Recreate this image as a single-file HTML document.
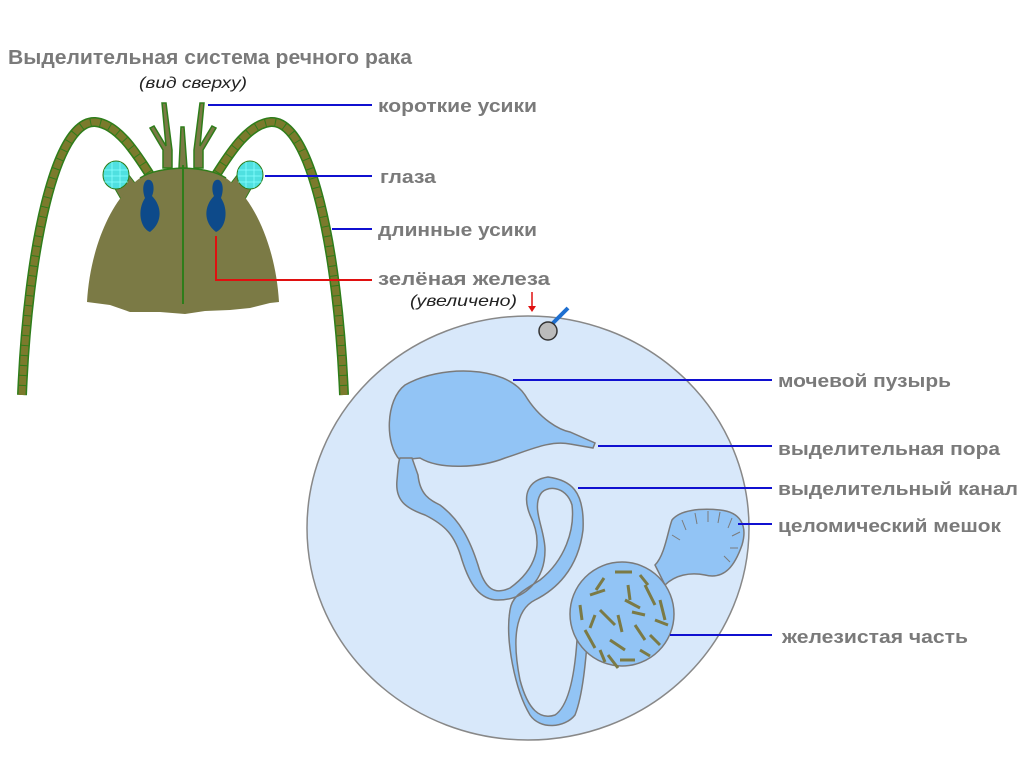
<!DOCTYPE html>
<html><head><meta charset="utf-8"><style>
html,body{margin:0;padding:0;background:#fff;}
svg{display:block}
.l{font-family:"Liberation Sans",sans-serif;font-weight:bold;font-size:18px;fill:#7a7a7a;}
.i{font-family:"Liberation Sans",sans-serif;font-style:italic;font-size:16px;fill:#222;}
</style></head><body>
<svg width="1024" height="767" viewBox="0 0 1024 767" xmlns="http://www.w3.org/2000/svg">
<text class="l" x="8" y="64" textLength="404" lengthAdjust="spacingAndGlyphs" style="font-size:20px">Выделительная система речного рака</text>
<text class="i" x="139" y="88" textLength="108" lengthAdjust="spacingAndGlyphs">(вид сверху)</text>

<g fill="none" stroke-linecap="butt">
<path d="M22,395 C28,250 55,120 95,122 C120,124 140,160 152,178" stroke="#2e7d1a" stroke-width="10"/>
<path d="M22,395 C28,250 55,120 95,122 C120,124 140,160 152,178" stroke="#7b7a2c" stroke-width="7" stroke-dasharray="9 1"/>
<path d="M344,395 C338,250 311,120 271,122 C246,124 226,160 214,178" stroke="#2e7d1a" stroke-width="10"/>
<path d="M344,395 C338,250 311,120 271,122 C246,124 226,160 214,178" stroke="#7b7a2c" stroke-width="7" stroke-dasharray="9 1"/>
</g>
<path d="M110,180 L125,170 L148,200 L130,215 Z" fill="#7b7a45" stroke="#2e7d1a"/>
<path d="M256,180 L241,170 L218,200 L236,215 Z" fill="#7b7a45" stroke="#2e7d1a"/>
<ellipse cx="116" cy="175" rx="13" ry="14" fill="#4fe0e0" stroke="#2e7d1a"/>
<ellipse cx="250" cy="175" rx="13" ry="14" fill="#4fe0e0" stroke="#2e7d1a"/>
<g stroke="#8ff" stroke-width="0.8">
<line x1="104" y1="170" x2="128" y2="170"/><line x1="104" y1="176" x2="128" y2="176"/><line x1="104" y1="182" x2="128" y2="182"/>
<line x1="112" y1="162" x2="112" y2="188"/><line x1="120" y1="162" x2="120" y2="188"/>
<line x1="238" y1="170" x2="262" y2="170"/><line x1="238" y1="176" x2="262" y2="176"/><line x1="238" y1="182" x2="262" y2="182"/>
<line x1="246" y1="162" x2="246" y2="188"/><line x1="254" y1="162" x2="254" y2="188"/>
</g>
<g stroke="#2e7d1a" fill="#7b7a45" stroke-width="1.5">
<path d="M163,168 L163,150 L150,128 L154,126 L166,146 L162,103 L166,103 L172,150 L172,168 Z"/>
<path d="M203,168 L203,150 L216,128 L212,126 L200,146 L204,103 L200,103 L194,150 L194,168 Z"/>
<path d="M179,168 L181,127 L184,127 L187,168 Z"/>
</g>
<path d="M87,302 C90,250 110,200 140,178 C160,165 206,165 226,178 C256,200 276,250 279,302 L270,303 L250,308 L230,310 L205,311 L185,314 L160,312 L130,312 L110,305 Z" fill="#7b7a45"/>
<path d="M140,178 C160,165 206,165 226,178" fill="none" stroke="#2e7d1a" stroke-width="1.5"/>
<line x1="183" y1="165" x2="183" y2="304" stroke="#2e7d1a" stroke-width="2"/>
<path d="M147,180 C154,178 155,190 152,196 C162,206 163,222 150,232 C140,228 137,210 145,198 C142,190 143,182 147,180 Z" fill="#0d4a8a"/>
<path d="M219,180 C212,178 211,190 214,196 C204,206 203,222 216,232 C226,228 229,210 221,198 C224,190 223,182 219,180 Z" fill="#0d4a8a"/>

<g stroke="#1010d0" stroke-width="2">
<line x1="208" y1="105" x2="372" y2="105"/>
<line x1="265" y1="176" x2="372" y2="176"/>
<line x1="332" y1="229" x2="372" y2="229"/>
</g>
<polyline points="216,236 216,280 372,280" fill="none" stroke="#e01010" stroke-width="2"/>
<text class="l" x="378" y="112" textLength="159" lengthAdjust="spacingAndGlyphs">короткие усики</text>
<text class="l" x="380" y="183" textLength="56" lengthAdjust="spacingAndGlyphs">глаза</text>
<text class="l" x="378" y="236" textLength="159" lengthAdjust="spacingAndGlyphs">длинные усики</text>
<text class="l" x="378" y="285" textLength="172" lengthAdjust="spacingAndGlyphs">зелёная железа</text>
<text class="i" x="410" y="306" textLength="107" lengthAdjust="spacingAndGlyphs">(увеличено)</text>
<line x1="532" y1="292" x2="532" y2="310" stroke="#e01010" stroke-width="1.5"/>
<path d="M528,306 L532,312 L536,306 Z" fill="#e01010"/>

<ellipse cx="528" cy="528" rx="221" ry="212" fill="#d8e8fa" stroke="#888" stroke-width="1.5"/>
<line x1="552" y1="324" x2="568" y2="308" stroke="#1e6fd0" stroke-width="4"/>
<circle cx="548" cy="331" r="9" fill="#bbb" stroke="#333" stroke-width="1.5"/>

<g fill="#92c4f5" stroke="#7a7a7a" stroke-width="1.5">
<path d="M400,460 C385,445 385,400 405,385 C440,365 505,365 525,395 C540,420 560,430 570,432 L595,443 L593,448 L570,444 C550,440 530,450 505,458 C480,468 440,470 420,458 Z"/>
<path d="M400,458 L412,458 L418,475 C420,495 430,500 440,505 C460,520 470,540 478,565 C485,590 495,595 510,588 C535,570 545,545 530,515 C522,495 528,480 548,477 C570,480 585,490 583,530 C578,570 555,590 535,600 C515,610 512,640 520,680 C528,710 540,720 555,715 C570,705 575,670 577,640 C577,610 580,600 590,598 L590,610 C587,640 585,690 575,715 C565,728 540,730 530,715 C515,690 505,640 510,610 C512,595 525,590 540,580 C565,560 575,530 572,505 C566,485 545,485 540,495 C532,510 545,530 545,550 C545,580 525,600 498,600 C480,600 470,585 462,560 C455,535 445,525 425,515 C405,508 395,500 397,480 C398,470 398,462 400,458 Z"/>
<path d="M655,565 C665,555 668,530 672,520 C680,510 700,508 720,510 C740,512 748,525 742,545 C735,565 725,580 705,575 C690,572 675,575 665,585 Z"/>
<circle cx="622" cy="614" r="52"/>
</g>
<g stroke="#7a7a7a" stroke-width="1">
<line x1="682" y1="520" x2="686" y2="530"/><line x1="695" y1="513" x2="697" y2="524"/><line x1="708" y1="511" x2="708" y2="522"/>
<line x1="720" y1="512" x2="718" y2="523"/><line x1="732" y1="518" x2="728" y2="528"/><line x1="740" y1="532" x2="732" y2="536"/>
<line x1="738" y1="548" x2="730" y2="548"/><line x1="730" y1="562" x2="724" y2="556"/><line x1="672" y1="535" x2="680" y2="540"/>
</g>
<g stroke="#7b7a45" stroke-width="3" stroke-linecap="butt">
<line x1="590" y1="595" x2="605" y2="590"/><line x1="615" y1="572" x2="632" y2="572"/><line x1="645" y1="585" x2="655" y2="605"/>
<line x1="600" y1="610" x2="615" y2="625"/><line x1="625" y1="600" x2="640" y2="608"/><line x1="660" y1="600" x2="665" y2="620"/>
<line x1="585" y1="630" x2="595" y2="648"/><line x1="610" y1="640" x2="625" y2="650"/><line x1="635" y1="625" x2="645" y2="640"/>
<line x1="650" y1="635" x2="660" y2="645"/><line x1="620" y1="660" x2="635" y2="660"/><line x1="600" y1="650" x2="605" y2="662"/>
<line x1="580" y1="605" x2="582" y2="620"/><line x1="628" y1="585" x2="630" y2="600"/>
<line x1="604" y1="578" x2="596" y2="590"/><line x1="640" y1="575" x2="648" y2="585"/><line x1="655" y1="620" x2="668" y2="625"/>
<line x1="618" y1="615" x2="622" y2="632"/><line x1="640" y1="650" x2="650" y2="656"/><line x1="595" y1="615" x2="590" y2="628"/>
<line x1="608" y1="655" x2="618" y2="668"/><line x1="632" y1="612" x2="645" y2="615"/>
</g>

<g stroke="#1010d0" stroke-width="2">
<line x1="513" y1="380" x2="772" y2="380"/>
<line x1="598" y1="446" x2="772" y2="446"/>
<line x1="578" y1="488" x2="772" y2="488"/>
<line x1="738" y1="524" x2="772" y2="524"/>
<line x1="670" y1="635" x2="772" y2="635"/>
</g>
<text class="l" x="778" y="387" textLength="173" lengthAdjust="spacingAndGlyphs">мочевой пузырь</text>
<text class="l" x="778" y="455" textLength="222" lengthAdjust="spacingAndGlyphs">выделительная пора</text>
<text class="l" x="778" y="495" textLength="240" lengthAdjust="spacingAndGlyphs">выделительный канал</text>
<text class="l" x="778" y="532" textLength="223" lengthAdjust="spacingAndGlyphs">целомический мешок</text>
<text class="l" x="782" y="643" textLength="186" lengthAdjust="spacingAndGlyphs">железистая часть</text>
</svg>
</body></html>
